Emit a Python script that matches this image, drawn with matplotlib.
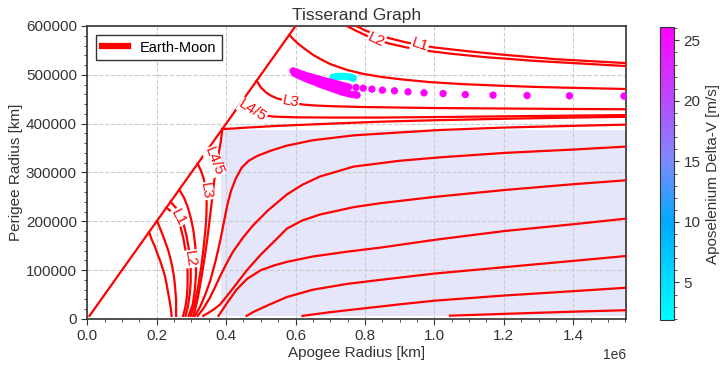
import numpy as np
import matplotlib.pyplot as plt
from matplotlib.colors import LinearSegmentedColormap
from matplotlib.ticker import AutoMinorLocator

plt.rcParams['font.family'] = ['Liberation Sans', 'DejaVu Sans']

# contour lines, thousands of km (apogee, perigee)
diag_x = [6.4, 620]
diag_y = [6.4, 620]

# branches above the Moon orbit
l1_up_x = [775, 800, 830, 870, 915, 958, 1000, 1100, 1200, 1350, 1450, 1552]
l1_up_y = [600, 591, 583, 575, 567, 561, 556, 548, 541, 532, 528, 524]
l2_up_x = [748, 775, 805, 832, 870, 920, 970, 1050, 1150, 1300, 1450, 1552]
l2_up_y = [600, 590, 580, 572, 564, 556, 550, 543, 536, 528, 522, 518]
u1_x = [582, 595, 610, 627, 650, 675, 700, 748, 795, 844, 900, 988, 1080, 1180,
        1300, 1450, 1552]
u1_y = [582, 572, 562, 553, 541, 531, 522, 510, 502, 496, 491, 485, 481, 478,
        475, 472.5, 471]
l3_up_x = [488, 500, 515, 530, 546, 570, 600, 622, 660, 714, 800, 900, 1000,
           1200, 1400, 1552]
l3_up_y = [488, 474, 464, 457, 452, 447, 442, 439, 437, 435.5, 434, 433, 432,
           431, 430, 429.5]
l45_up_x = [442, 455, 470, 490, 510, 536, 600, 700, 844, 1000, 1200, 1400, 1552]
l45_up_y = [442, 432, 426, 420, 417, 414.5, 413, 412.5, 412.5, 413.5, 415,
            416.5, 417.5]
corner_x = [389, 420, 460, 500, 550, 600, 700, 843, 1000, 1200, 1400, 1552]
corner_y = [389, 390, 392, 393.5, 395.5, 397, 400, 404, 407, 410, 412.5, 414]

# branches below the Moon orbit
f1_x = [178, 186, 195, 202, 209, 217, 224, 229, 233, 237, 240, 242, 243]
f1_y = [178, 162, 148, 134, 121, 104, 87, 70, 53, 38, 25, 14, 6.4]
f2_x = [201, 210, 219, 226, 233, 239, 245, 249, 252, 254, 256, 256, 256]
f2_y = [201, 185, 169, 155, 141, 125, 107, 90, 73, 56, 39, 22, 6.4]
l1_lo_x = [228, 245, 258, 268, 276, 282, 287, 289, 289, 287, 282, 276]
l1_lo_y = [228, 218, 206, 190, 168, 145, 120, 95, 70, 45, 22, 6.4]
l2_lo_x = [240, 255, 268, 278, 286, 292, 296, 298, 298, 295, 290, 283]
l2_lo_y = [240, 228, 213, 193, 170, 145, 123, 100, 75, 50, 25, 6.4]
f4_x = [265, 279, 290, 299, 306, 311, 313, 313, 310, 304, 292]
f4_y = [265, 248, 228, 205, 180, 150, 120, 90, 60, 30, 6.4]
l3_lo_x = [318, 328, 335, 340, 343, 344, 343, 340, 335, 328, 319, 309, 298]
l3_lo_y = [318, 303, 288, 272, 255, 235, 210, 180, 145, 105, 65, 30, 6.4]
l45_lo_x = [389, 385, 379, 372, 367, 362, 357, 352, 346, 338, 329, 319, 311, 305]
l45_lo_y = [389, 365, 340, 315, 290, 260, 230, 200, 165, 125, 85, 45, 20, 6.4]

# crossing orbits (inside the shaded band)
s1_x = [310, 325, 340, 355, 370, 383, 394, 404, 414, 428, 445, 465, 490, 530,
        575, 650, 767, 900, 1016, 1200, 1400, 1552]
s1_y = [6.4, 25, 50, 80, 120, 160, 200, 235, 262, 288, 310, 324, 334, 345,
        355, 366, 376, 382, 387, 392, 395.5, 398]
s2_x = [318, 335, 352, 368, 383, 400, 420, 450, 478, 520, 575, 620, 671, 767,
        900, 1016, 1200, 1400, 1552]
s2_y = [6.4, 22, 42, 65, 88, 112, 138, 168, 192, 222, 255, 275, 292, 312,
        324, 331, 340, 347, 353]
s3_x = [334, 350, 367, 383, 400, 420, 460, 500, 540, 575, 620, 671, 767, 843,
        1000, 1200, 1400, 1552]
s3_y = [6.4, 13, 21, 30, 45, 63, 100, 132, 160, 185, 202, 214, 229, 237,
        250, 264, 276, 284]
s4_x = [378, 400, 430, 460, 500, 540, 575, 650, 750, 843, 1000, 1200, 1400, 1552]
s4_y = [6.4, 30, 60, 82, 100, 110, 117, 128, 138, 146, 162, 180, 194, 205.5]
s5_x = [459, 480, 520, 575, 650, 750, 843, 1000, 1200, 1400, 1552]
s5_y = [6.4, 15, 28, 45, 60, 72, 80, 93, 106, 119, 129]
s6_x = [620, 700, 800, 900, 1000, 1200, 1400, 1552]
s6_y = [6.4, 14, 22, 30, 37.5, 48, 57, 64]
s7_x = [1045, 1200, 1400, 1552]
s7_y = [6.8, 10.5, 15, 18]

# inline contour labels: text, apogee, perigee, angle
lab_txt = ['L1', 'L2', 'L3', 'L4/5', 'L1', 'L2', 'L3', 'L4/5']
lab_x = [958, 832, 586, 476, 262, 297, 343, 364]
lab_y = [561, 572, 446, 426, 208, 123, 262, 322]
lab_rot = [-18, -25, -10, -32, -62, -82, -82, -68]

# transfers (apogee, perigee, delta-v)
cyan_x = [708, 718, 728, 738, 748, 758, 766]
cyan_y = [495, 496.5, 497, 497, 496.5, 495, 493]
cyan_dv = [2.2, 2.0, 1.9, 2.1, 2.4, 2.8, 3.2]
band_up_x = [593, 601, 609, 617, 625, 633, 641, 649, 657, 665, 673, 681,
             689, 697, 705, 713, 721, 729, 737, 745, 753]
band_up_y = [508, 506, 504, 502, 500, 498, 496.5, 495, 493, 491.5, 490, 488.5,
             487, 485.5, 484, 482.5, 481, 479.5, 478, 476.5, 475]
band_lo_x = [597, 605, 613, 621, 629, 637, 645, 653, 661, 669, 677, 685,
             693, 701, 709, 717, 725, 733, 741, 749, 757, 765, 773, 777]
band_lo_y = [503, 500, 497.5, 495, 492.5, 490, 488, 486, 483.5, 481, 479, 477,
             475, 473, 471, 469, 467, 465, 463.5, 462, 460.5, 459.5, 459, 458.5]
tail_x = [774, 795, 820, 850, 885, 924, 970, 1025, 1089, 1169, 1267, 1389, 1546]
tail_y = [474, 472.7, 470.7, 468.6, 467.2, 465.2, 463.1, 461.7, 459.6, 458.4,
          457.6, 457, 456.4]
dv_max = 26.1


def km(v):
    return np.asarray(v, dtype=float) * 1000.0


fig = plt.figure(figsize=(7.26, 3.67), dpi=100)
ax = fig.add_axes([0.1202, 0.1308, 0.7421, 0.7984])
cax = fig.add_axes([0.909, 0.128, 0.0193, 0.7984])

# orbits crossing the Moon's
ax.fill_between([386000, 1.6e6], 6378, 386000, color='#e6e6fa', zorder=0, lw=0)

red = dict(color='red', lw=1.6, zorder=3)
ax.plot(km(diag_x), km(diag_y), label='Earth-Moon', **red)
curves = [
    (l1_up_x, l1_up_y), (l2_up_x, l2_up_y), (u1_x, u1_y), (l3_up_x, l3_up_y),
    (l45_up_x, l45_up_y), (corner_x, corner_y),
    (f1_x, f1_y), (f2_x, f2_y), (l1_lo_x, l1_lo_y), (l2_lo_x, l2_lo_y),
    (f4_x, f4_y), (l3_lo_x, l3_lo_y), (l45_lo_x, l45_lo_y),
    (s1_x, s1_y), (s2_x, s2_y), (s3_x, s3_y), (s4_x, s4_y), (s5_x, s5_y),
    (s6_x, s6_y), (s7_x, s7_y),
]
for cx, cy in curves:
    ax.plot(km(cx), km(cy), **red)

for txt, lx, ly, rot in zip(lab_txt, lab_x, lab_y, lab_rot):
    ax.text(lx * 1000, ly * 1000, txt, color='red', fontsize=11, rotation=rot,
            ha='center', va='center', rotation_mode='anchor', zorder=4,
            bbox=dict(fc='white', ec='none', pad=0.3))

cmap = LinearSegmentedColormap.from_list(
    'dv', [(0.0, '#00ffff'), (0.33, '#00aaff'), (0.55, '#7f88ff'), (1.0, '#ff00ff')])
sc_x = cyan_x + band_up_x + band_lo_x + tail_x
sc_y = cyan_y + band_up_y + band_lo_y + tail_y
sc_c = cyan_dv + [dv_max] * (len(band_up_x) + len(band_lo_x) + len(tail_x))
sc = ax.scatter(km(sc_x), km(sc_y), c=sc_c, cmap=cmap, s=28, lw=0, zorder=5)

ax.set_xlim(0, 1.552e6)
ax.set_ylim(0, 600000)
ax.set_title('Tisserand Graph', fontsize=12.5, color='#333333', pad=4)
ax.set_xlabel('Apogee Radius [km]', fontsize=11, color='#333333', labelpad=2)
ax.set_ylabel('Perigee Radius [km]', fontsize=11, color='#333333', labelpad=2)
ax.grid(True, ls='--', color='#cccccc', lw=0.8, zorder=1)
ax.set_axisbelow(True)
ax.xaxis.set_minor_locator(AutoMinorLocator(4))
ax.yaxis.set_minor_locator(AutoMinorLocator(5))
ax.tick_params(which='both', direction='out', colors='#333333', labelsize=11)
ax.tick_params(which='major', length=4)
ax.tick_params(which='minor', length=2.5)
for sp in ax.spines.values():
    sp.set_color('#333333')
    sp.set_linewidth(1.2)

leg = ax.legend(loc='upper left', fontsize=10.5, fancybox=False,
                edgecolor='#333333', framealpha=1, handlelength=1.8,
                borderaxespad=0.6)
for line in leg.get_lines():
    line.set_linewidth(4.5)

cb = fig.colorbar(sc, cax=cax)
cb.set_label('Aposelenium Delta-V [m/s]', fontsize=11, color='#333333')
cb.ax.yaxis.set_minor_locator(AutoMinorLocator(5))
cb.ax.tick_params(which='both', colors='#333333', labelsize=11)
cb.outline.set_edgecolor('#333333')

fig.savefig('out.png', dpi=100)
